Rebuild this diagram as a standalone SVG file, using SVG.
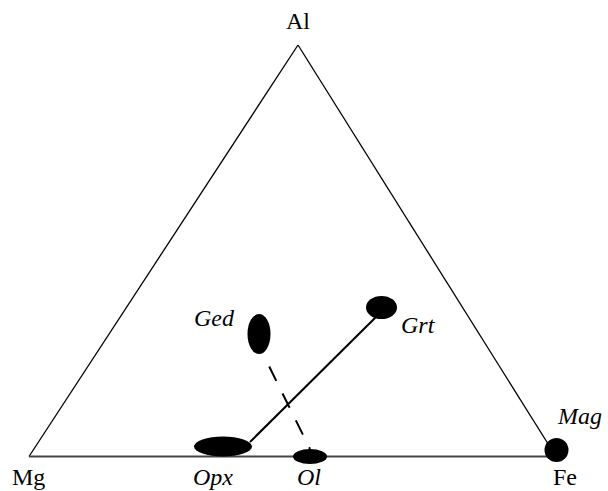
<svg xmlns="http://www.w3.org/2000/svg" width="608" height="491" viewBox="0 0 608 491">
<style>
text{font-family:'Liberation Serif','DejaVu Serif','Times New Roman',serif;font-size:24px;fill:#000}
.it{font-style:italic}
.side{stroke:#000;stroke-width:1.3;fill:none}
</style>
<rect width="608" height="491" fill="#fff"/>
<g id="triangle">
<line class="side" x1="29" y1="456.5" x2="298" y2="45"/>
<line class="side" x1="298" y1="45" x2="556" y2="456.5"/>
<line x1="29" y1="456.5" x2="556" y2="456.5" stroke="#444" stroke-width="1.8"/>
</g>
<g id="connectors">
<line x1="250" y1="442" x2="376" y2="317" stroke="#000" stroke-width="2"/>
<line x1="263" y1="354" x2="310" y2="449" stroke="#000" stroke-width="2" stroke-dasharray="16,14" stroke-dashoffset="-14"/>
</g>
<g id="Opx"><ellipse cx="223" cy="446.5" rx="29" ry="10"/><text class="it" x="193" y="485" font-family="Liberation Serif">Opx</text></g>
<g id="Ol"><ellipse cx="310" cy="456.5" rx="17" ry="7.5"/><text class="it" x="297" y="485" font-family="Liberation Serif">Ol</text></g>
<g id="Ged"><ellipse cx="259" cy="334" rx="11.5" ry="20"/><text class="it" x="194" y="326" font-family="Liberation Serif">Ged</text></g>
<g id="Grt"><ellipse cx="381.5" cy="307.5" rx="15.5" ry="11.5"/><text class="it" x="401" y="333" font-family="Liberation Serif">Grt</text></g>
<g id="Mag"><circle cx="556.5" cy="450" r="12"/><text class="it" x="558" y="424" font-family="Liberation Serif">Mag</text></g>
<g id="Al"><text x="298" y="29" text-anchor="middle" font-family="Liberation Serif">Al</text></g>
<g id="Mg"><text x="12" y="485" font-family="Liberation Serif">Mg</text></g>
<g id="Fe"><text x="553" y="485" font-family="Liberation Serif">Fe</text></g>
</svg>
